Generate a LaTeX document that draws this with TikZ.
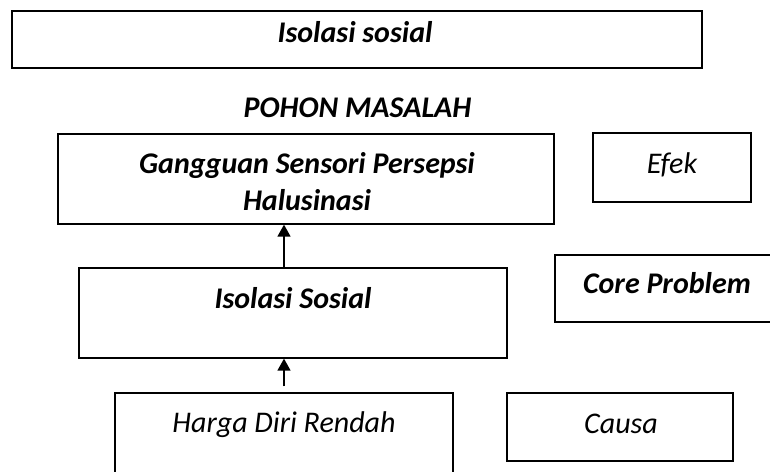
\documentclass[tikz,border=0pt]{standalone}
\usepackage{fontspec}
\setmainfont{Carlito}
\usetikzlibrary{arrows.meta}
\tikzset{
  box/.style={draw=black, line width=1.3pt, inner sep=0pt, fill=none},
  topbox/.style={box, line width=1.8pt},
  bi/.style={inner sep=0pt, anchor=base, font=\fontsize{30}{36}\selectfont\bfseries\itshape},
  ri/.style={inner sep=0pt, anchor=base, font=\fontsize{30}{36}\selectfont\itshape},
  arr/.style={line width=1.5pt, -{Triangle[length=12pt,width=13pt]}}
}
\begin{document}
\begin{tikzpicture}[x=1pt,y=-1pt]
\useasboundingbox (0,0) rectangle (770,471);
% boxes
\node[topbox, minimum width=690pt, minimum height=57pt] (top) at (357,39.5) {};
\node[box, minimum width=496pt, minimum height=90pt] (gang) at (306,179) {};
\node[box, minimum width=158pt, minimum height=69pt] (efek) at (672,167.5) {};
\node[box, minimum width=428pt, minimum height=90pt] (isol) at (293,313) {};
\node[box, minimum width=220pt, minimum height=67pt] (core) at (665,288.5) {};
\node[box, minimum width=338pt, minimum height=90pt] (harga) at (284,438) {};
\node[box, minimum width=226pt, minimum height=68pt] (causa) at (620,427) {};
% texts
\node[bi] (ttop) at (355,42) {Isolasi sosial};
\node[bi] (title) at (357.5,117) {POHON MASALAH};
\node[bi] (tgang1) at (307,173) {Gangguan Sensori Persepsi};
\node[bi] (tgang2) at (307,210) {Halusinasi};
\node[ri] (tefek) at (672,173) {Efek};
\node[bi] (tisol) at (293,308) {Isolasi Sosial};
\node[bi] (tcore) at (667,293) {Core Problem};
\node[ri] (tharga) at (284,432) {Harga Diri Rendah};
\node[ri] (tcausa) at (621,433) {Causa};
% arrows
\draw[arr] (harga.north |- isol.north) -- (harga.north |- gang.south);
\draw[arr] ([yshift=6pt]harga.north) -- (harga.north |- isol.south);
\end{tikzpicture}
\end{document}
